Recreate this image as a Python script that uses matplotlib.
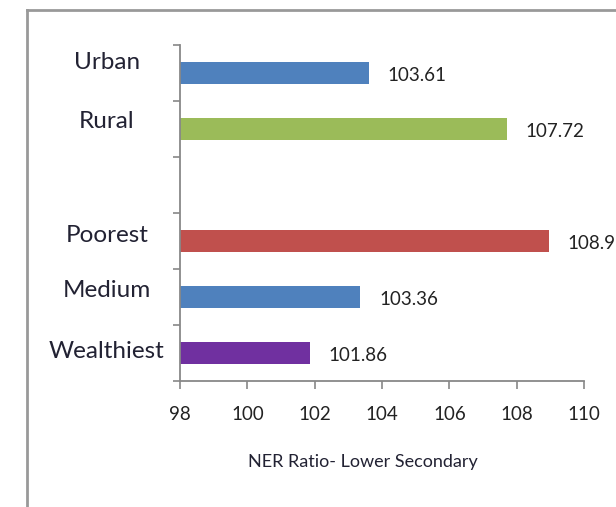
import matplotlib.pyplot as plt
from matplotlib.lines import Line2D
from matplotlib.transforms import blended_transform_factory

plt.rcParams['font.family'] = ['Lato', 'DejaVu Sans']

categories = ['Urban', 'Rural', '', 'Poorest', 'Medium', 'Wealthiest']
values = [103.61, 107.72, None, 108.97, 103.36, 101.86]
colors = ['#4F81BD', '#9BBB59', None, '#C0504D', '#4F81BD', '#7030A0']
x_ticks = [98, 100, 102, 104, 106, 108, 110]

# small vertical nudges of the category names (in bar slots)
name_shift = [-0.19, -0.13, 0, -0.1, -0.12, -0.03]

fig = plt.figure(figsize=(6.16, 5.07), dpi=100)
ax = fig.add_axes([180 / 616, 1 - 381 / 507, 404 / 616, 336 / 507])

# chart frame (left + top edges visible)
fig.add_artist(Line2D([27 / 616, 27 / 616], [0, 1 - 10 / 507], transform=fig.transFigure,
                      color='#999999', lw=2))
fig.add_artist(Line2D([27 / 616, 1], [1 - 10 / 507, 1 - 10 / 507], transform=fig.transFigure,
                      color='#999999', lw=2))

base = 98
for i, (v, c) in enumerate(zip(values, colors)):
    if v is None:
        continue
    ax.barh(i, v - base, left=base, height=0.41, color=c)
    ax.text(v + 0.55, i + 0.05, f'{v:.2f}', va='center', ha='left', fontsize=13.5,
            color='#222222', clip_on=False)

ax.set_xlim(98, 110)
ax.set_ylim(5.5, -0.5)
ax.set_xticks(x_ticks)
ax.set_xticklabels([str(t) for t in x_ticks], fontsize=13.5, color='#222222')
ax.tick_params(axis='x', length=6, width=1.2, color='#888888', pad=12)

ax.set_yticks([i - 0.5 for i in range(7)])
ax.set_yticklabels([])
ax.tick_params(axis='y', length=5, width=1.2, color='#888888', direction='out')

trans = blended_transform_factory(ax.transAxes, ax.transData)
for i, name in enumerate(categories):
    ax.text(-0.181, i + name_shift[i], name, transform=trans, ha='center', va='center',
            fontsize=17.5, color='#222233')

for s in ['top', 'right']:
    ax.spines[s].set_visible(False)
for s in ['left', 'bottom']:
    ax.spines[s].set_color('#888888')
    ax.spines[s].set_linewidth(1.3)

ax.set_xlabel('NER Ratio- Lower Secondary', fontsize=13, color='#222233')
ax.xaxis.set_label_coords((363 - 180) / 404, -(462 - 381) / 336)
ax.xaxis.label.set_va('center')

fig.savefig('out.png', dpi=100)
